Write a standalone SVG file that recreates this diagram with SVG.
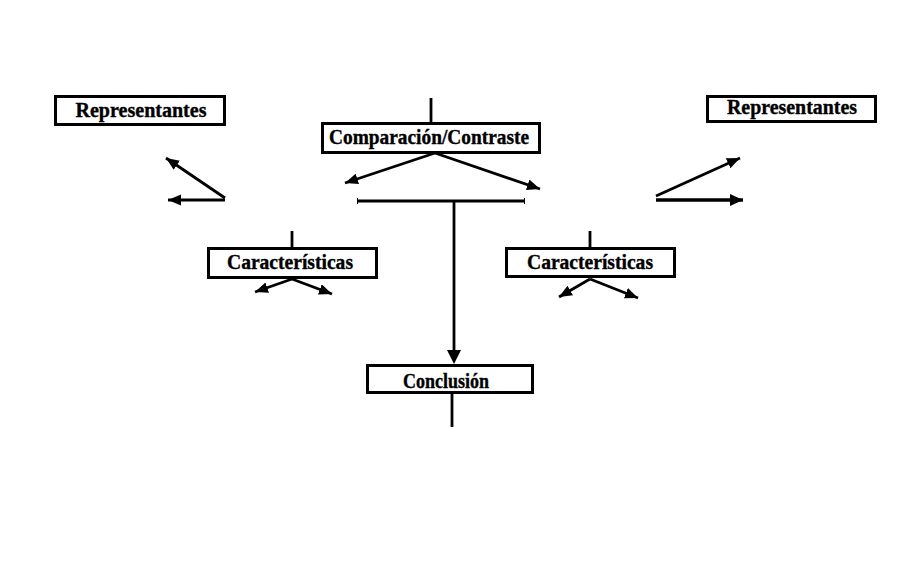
<svg xmlns="http://www.w3.org/2000/svg" width="918" height="567" viewBox="0 0 918 567">
<style>
.box{fill:#fff;stroke:#000;stroke-width:3}
.lbl{font-family:"Liberation Serif","Times New Roman",serif;font-weight:bold;font-size:20px;fill:#000;stroke:#000;stroke-width:0.35;text-anchor:middle}
.ln{stroke:#000;stroke-width:2.8;fill:none}
.ar{stroke:#000;stroke-width:2.8;fill:none;marker-end:url(#ah)}
</style>
<defs>
<marker id="ah" markerUnits="userSpaceOnUse" markerWidth="16" markerHeight="13" refX="13" refY="5.5" orient="auto">
<path d="M0,0 L13,5.5 L0,11 Z" fill="#000"/>
</marker>
<marker id="ahb" markerUnits="userSpaceOnUse" markerWidth="16" markerHeight="14" refX="13" refY="6" orient="auto">
<path d="M0,0 L13,6 L0,12 Z" fill="#000"/>
</marker>
</defs>
<rect width="918" height="567" fill="#fff"/>
<g id="connectors">
<line class="ln" x1="431" y1="98" x2="431" y2="123"/>
<line class="ar" x1="435" y1="153" x2="345" y2="183"/>
<line class="ar" x1="435" y1="153" x2="540" y2="189"/>
<line class="ln" x1="357" y1="201" x2="525" y2="201"/>
<line stroke="#000" stroke-width="1" x1="357.5" y1="198" x2="357.5" y2="204"/>
<line stroke="#000" stroke-width="1" x1="524.5" y1="198" x2="524.5" y2="204"/>
<line class="ln" x1="454" y1="201" x2="454" y2="352"/>
<path d="M447,350 L454,364 L461,350 Z" fill="#000"/>
<line class="ln" x1="452" y1="393" x2="452" y2="427"/>
<line class="ar" x1="225" y1="198" x2="166" y2="158"/>
<line class="ar" x1="225" y1="200" x2="168" y2="200"/>
<line class="ln" x1="292" y1="231" x2="292" y2="248"/>
<line class="ar" x1="292" y1="279" x2="255" y2="292"/>
<line class="ar" x1="292" y1="279" x2="332" y2="294"/>
<line class="ln" x1="590" y1="231" x2="590" y2="248"/>
<line class="ar" x1="590" y1="279" x2="559" y2="297"/>
<line class="ar" x1="590" y1="279" x2="638" y2="298"/>
<line class="ar" x1="656" y1="196" x2="740" y2="158"/>
<line x1="656" y1="200" x2="743" y2="200" stroke="#000" stroke-width="3.5" marker-end="url(#ahb)"/>
</g>
<g id="rep-left">
<rect class="box" x="55.5" y="96.5" width="169" height="28"/>
<text class="lbl" x="141" y="117" textLength="131" lengthAdjust="spacingAndGlyphs">Representantes</text>
</g>
<g id="comparacion">
<rect class="box" x="322.5" y="123.5" width="217" height="29"/>
<text class="lbl" x="429" y="144" textLength="200" lengthAdjust="spacingAndGlyphs">Comparación/Contraste</text>
</g>
<g id="rep-right">
<rect class="box" x="707.5" y="96.5" width="168" height="25"/>
<text class="lbl" x="792" y="114" textLength="130" lengthAdjust="spacingAndGlyphs">Representantes</text>
</g>
<g id="car-left">
<rect class="box" x="208.5" y="248.5" width="168" height="29"/>
<text class="lbl" x="290" y="269" textLength="126" lengthAdjust="spacingAndGlyphs">Características</text>
</g>
<g id="car-right">
<rect class="box" x="506.5" y="248.5" width="168" height="28"/>
<text class="lbl" x="590" y="269" textLength="126" lengthAdjust="spacingAndGlyphs">Características</text>
</g>
<g id="conclusion">
<rect class="box" x="367.5" y="365.5" width="165" height="27"/>
<text class="lbl" x="446" y="388" textLength="86" lengthAdjust="spacingAndGlyphs">Conclusión</text>
</g>
</svg>
